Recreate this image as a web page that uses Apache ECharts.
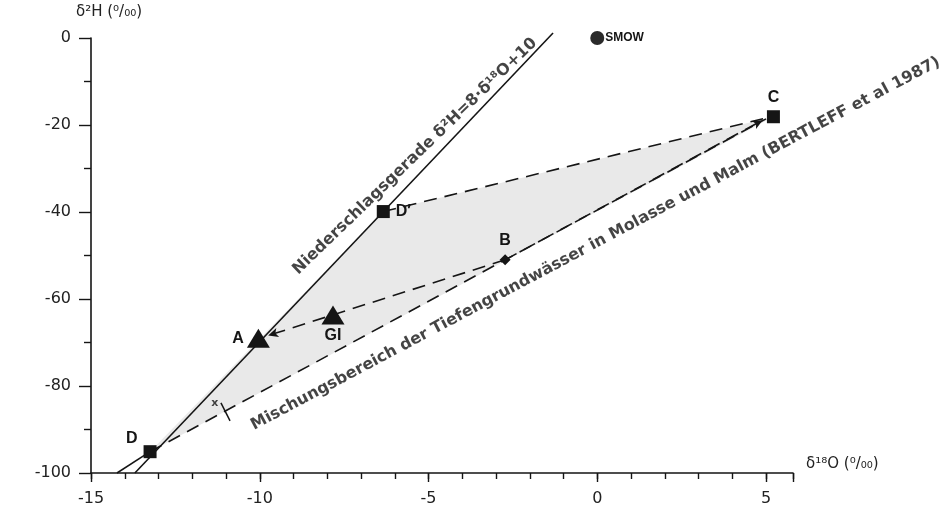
<!DOCTYPE html>
<html><head><meta charset="utf-8">
<script src="https://cdn.jsdelivr.net/npm/echarts@6/dist/echarts.min.js"></script>
<style>html,body{margin:0;padding:0;background:#fff}#c{width:947px;height:516px}</style>
</head><body><div id="c"></div>
<script>
// ---- data ----
const xTickValues = [-15, -10, -5, 0, 5];
const yTickValues = [-100, -80, -60, -40, -20, 0];

const squareNames = ['C', 'D′', 'D'];
const squareX = [5.22, -6.34, -13.25];
const squareY = [-18.1, -39.9, -95.1];

const triangleNames = ['A', 'GI'];
const triangleX = [-10.04, -7.83];
const triangleY = [-69.0, -63.7];

const diamondNames = ['B'];
const diamondX = [-2.73];
const diamondY = [-51.0];

const smowNames = ['SMOW'];
const smowX = [0];
const smowY = [0];

// Niederschlagsgerade (meteoric water line) as drawn
const meteoricX = [-13.7, -1.31];
const meteoricY = [-100, 1.15];

// shaded mixing area D – D' – C
const areaX = [-13.25, -6.34, 5.22];
const areaY = [-95.1, -39.9, -18.1];

// dashed connecting lines (from -> to), arrow at the "to" end where drawn
const dashFromX = [-6.34, -2.73, -2.73, -13.25];
const dashFromY = [-39.9, -51.0, -51.0, -95.1];
const dashToX = [5.0, -9.75, 4.9, 5.0];
const dashToY = [-18.4, -68.4, -18.9, -18.6];
const dashArrow = [false, true, true, false];

// solid pieces: lower boundary to axis, marker tick near "x"
const solidFromX = [-14.23, -11.15];
const solidFromY = [-100, -83.9];
const solidToX = [-13.25, -10.88];
const solidToY = [-95.1, -88.0];

// rotated annotations
const annoText = ['Niederschlagsgerade δ²H=8·δ¹⁸O+10',
  'Mischungsbereich der Tiefengrundwässer in Molasse und Malm (BERTLEFF et al 1987)',
  'x'];
const annoX = [-5.4, -0.05, -11.33];
const annoY = [-27.2, -47.3, -84.0];

// ---- styles ----
const FONT = '"Liberation Sans", Arial, Helvetica, sans-serif';
const WFONT = '"DejaVu Sans", Verdana, sans-serif';
const INK = '#151515';
const annoStyle = [
  {rotate: 44, fontSize: 16},
  {rotate: 28, fontSize: 16},
  {rotate: 0, fontSize: 11}
];
const labelStyles = {
  'C': {position: 'top', distance: 5},
  'D′': {position: 'right', distance: 6},
  'D': {position: 'left', distance: 6, offset: [0, -13]},
  'A': {position: 'left', distance: 3},
  'GI': {position: 'bottom', distance: 3},
  'B': {position: 'top', distance: 6},
  'SMOW': {position: 'right', distance: 1, fontSize: 12}
};
function pts(names, xs, ys) {
  return names.map((n, i) => ({
    name: n, value: [xs[i], ys[i]],
    label: Object.assign({show: true}, labelStyles[n])
  }));
}
const labelBase = {show: true, formatter: p => p.name, color: INK, fontFamily: FONT, fontWeight: 'bold', fontSize: 16};

const markData = [];
dashFromX.forEach((x, i) => {
  markData.push([
    {coord: [x, dashFromY[i]], symbol: 'none'},
    {coord: [dashToX[i], dashToY[i]], symbol: dashArrow[i] ? 'arrow' : 'none', symbolSize: [7, 10]}
  ]);
});
solidFromX.forEach((x, i) => {
  markData.push([
    {coord: [x, solidFromY[i]], symbol: 'none', lineStyle: {type: 'solid', color: INK, width: 1.5}},
    {coord: [solidToX[i], solidToY[i]], symbol: 'none'}
  ]);
});

const chart = echarts.init(document.getElementById('c'), null, {renderer: 'canvas'});
const gridPos = {left: 91, right: 154, top: 38, bottom: 43};
const axisLab = {color: '#222', fontFamily: WFONT, fontSize: 16};

chart.setOption({
  animation: false,
  backgroundColor: '#fff',
  grid: gridPos,
  xAxis: [{
    type: 'value', min: -15, max: 5.8, interval: 5,
    axisLine: {onZero: false, lineStyle: {color: INK, width: 1.6}},
    axisTick: {show: true, length: 9, lineStyle: {color: INK, width: 1.4}},
    splitLine: {show: false},
    axisLabel: Object.assign({margin: 18, formatter: v => xTickValues.includes(v) ? String(v) : ''}, axisLab)
  }, {
    type: 'value', min: -15, max: 5.8, interval: 1, position: 'bottom',
    axisLine: {show: false, onZero: false},
    axisTick: {show: true, length: 6, lineStyle: {color: INK, width: 1.4}},
    splitLine: {show: false},
    axisLabel: {show: false}
  }],
  yAxis: {
    type: 'value', min: -100, max: 0, interval: 20,
    axisLine: {onZero: false, lineStyle: {color: INK, width: 1.6}},
    axisTick: {show: true, length: 12, lineStyle: {color: INK, width: 1.4}},
    minorTick: {show: true, splitNumber: 2, length: 7, lineStyle: {color: INK, width: 1.4}},
    splitLine: {show: false},
    axisLabel: Object.assign({margin: 20, formatter: v => yTickValues.includes(v) ? String(v) : ''}, axisLab)
  },
  graphic: [
    {type: 'text', left: 76, top: 5, style: {text: 'δ²H (⁰/₀₀)', fill: '#222', font: '15px ' + WFONT}},
    {type: 'text', left: 806, top: 457, style: {text: 'δ¹⁸O (⁰/₀₀)', fill: '#222', font: '15px ' + WFONT}}
  ],
  series: [
    {
      type: 'custom', silent: true, z: 1, clip: false,
      data: [[areaX[0], areaY[0]]],
      renderItem: (params, api) => ({
        type: 'polygon',
        shape: {points: areaX.map((x, i) => api.coord([x, areaY[i]]))},
        style: {fill: '#e9e9e9'}
      })
    },
    {
      type: 'line', z: 3, clip: false, silent: true,
      data: meteoricX.map((x, i) => [x, meteoricY[i]]),
      symbol: 'none',
      lineStyle: {color: INK, width: 1.6},
      markLine: {
        silent: true, animation: false, symbol: ['none', 'none'],
        lineStyle: {type: [13, 8], color: INK, width: 1.6},
        label: {show: false},
        data: markData
      }
    },
    {
      type: 'scatter', z: 5, symbol: 'rect', symbolSize: 13,
      itemStyle: {color: INK, opacity: 1},
      label: labelBase,
      data: pts(squareNames, squareX, squareY)
    },
    {
      type: 'scatter', z: 5, symbol: 'triangle', symbolSize: [23, 19],
      itemStyle: {color: INK, opacity: 1},
      label: labelBase,
      data: pts(triangleNames, triangleX, triangleY)
    },
    {
      type: 'scatter', z: 5, symbol: 'diamond', symbolSize: 11,
      itemStyle: {color: INK, opacity: 1},
      label: labelBase,
      data: pts(diamondNames, diamondX, diamondY)
    },
    {
      type: 'scatter', z: 5, symbol: 'circle', symbolSize: 14, clip: false,
      itemStyle: {color: '#2a2a2a', opacity: 1},
      label: labelBase,
      data: pts(smowNames, smowX, smowY)
    },
    {
      type: 'scatter', z: 6, symbolSize: 1, clip: false, silent: true,
      itemStyle: {color: 'rgba(0,0,0,0)'},
      data: annoText.map((t, i) => ({
        name: t, value: [annoX[i], annoY[i]],
        label: {show: true, position: 'inside', formatter: t, rotate: annoStyle[i].rotate,
          fontSize: annoStyle[i].fontSize, fontWeight: 'bold', color: INK, fontFamily: WFONT}
      }))
    }
  ]
});
</script>
</body></html>
